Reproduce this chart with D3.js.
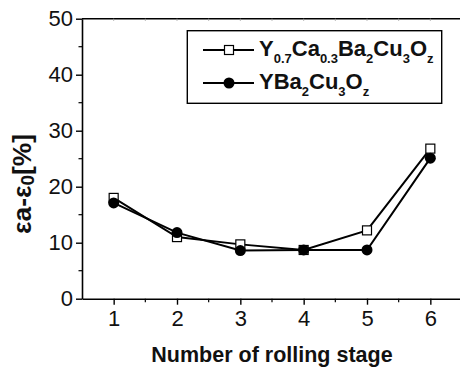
<!DOCTYPE html>
<html>
<head>
<script src="https://d3js.org/d3.v7.min.js"></script>
<style>
body { margin: 0; background: #fff; }
text { font-family: "Liberation Sans", Arial, sans-serif; }
</style>
</head>
<body>
<svg width="460" height="369"></svg>
<script>
// data
const stages = [1, 2, 3, 4, 5, 6];
const yCaBCO = [18.0, 11.0, 9.7, 8.7, 12.2, 26.8];
const yBCO = [17.1, 11.8, 8.6, 8.7, 8.7, 25.1];
const yTicks = [0, 10, 20, 30, 40, 50];

const svg = d3.select("svg");
const pLeft = 82, pRight = 462, pTop = 18.7, pBottom = 298.7;

const x = d3.scaleLinear().domain([0.5, 6.5]).range([pLeft, pRight]);
const y = d3.scaleLinear().domain([0, 50]).range([pBottom, pTop]);

// axes
const xAxis = svg.append("g").attr("transform", `translate(0,${pBottom})`)
    .call(d3.axisBottom(x).tickValues(stages).tickFormat(d3.format("d"))
        .tickSize(6).tickPadding(5.5).tickSizeOuter(0));
const yAxis = svg.append("g").attr("transform", `translate(${pLeft},0)`)
    .call(d3.axisLeft(y).tickValues(yTicks).tickFormat(d3.format("d"))
        .tickSize(6).tickPadding(3).tickSizeOuter(0));

[xAxis, yAxis].forEach(a => {
    a.select(".domain").attr("stroke", "#000").attr("stroke-width", 1.6);
    a.selectAll(".tick line").attr("stroke-width", 1.4);
    a.selectAll(".tick text").attr("font-size", 22).attr("fill", "#111")
        .style("font-family", "'Liberation Sans', Arial, sans-serif");
});

// minor ticks
const xMinor = d3.range(1.5, 6.5, 1);
svg.append("g").selectAll("line").data(xMinor).join("line")
    .attr("x1", d => x(d)).attr("x2", d => x(d))
    .attr("y1", pBottom).attr("y2", pBottom + 3.5)
    .attr("stroke", "#000").attr("stroke-width", 1.2);
const yMinor = d3.range(5, 50, 10);
svg.append("g").selectAll("line").data(yMinor).join("line")
    .attr("x1", pLeft - 3.5).attr("x2", pLeft)
    .attr("y1", d => y(d)).attr("y2", d => y(d))
    .attr("stroke", "#000").attr("stroke-width", 1.2);

// top frame
svg.append("line").attr("x1", pLeft).attr("x2", pRight)
    .attr("y1", pTop).attr("y2", pTop).attr("stroke", "#000").attr("stroke-width", 1.6);
svg.append("g").selectAll("line").data(stages.concat(xMinor)).join("line")
    .attr("x1", d => x(d)).attr("x2", d => x(d))
    .attr("y1", pTop).attr("y2", pTop + 2)
    .attr("stroke", "#999").attr("stroke-width", 1);

// series
const line = d3.line().x((d, i) => x(stages[i])).y(d => y(d));

svg.append("path").datum(yCaBCO).attr("d", line)
    .attr("fill", "none").attr("stroke", "#000").attr("stroke-width", 2);
svg.append("path").datum(yBCO).attr("d", line)
    .attr("fill", "none").attr("stroke", "#000").attr("stroke-width", 2);

svg.append("g").selectAll("rect").data(yCaBCO).join("rect")
    .attr("x", (d, i) => x(stages[i]) - 4.5).attr("y", d => y(d) - 4.5)
    .attr("width", 9).attr("height", 9)
    .attr("fill", "#fff").attr("stroke", "#000").attr("stroke-width", 1.2);
svg.append("g").selectAll("circle").data(yBCO).join("circle")
    .attr("cx", (d, i) => x(stages[i])).attr("cy", d => y(d)).attr("r", 5.5)
    .attr("fill", "#000");

// legend
const lg = svg.append("g");
lg.append("rect").attr("x", 187.3).attr("y", 30.7).attr("width", 254.4).attr("height", 72.6)
    .attr("fill", "#fff").attr("stroke", "#000").attr("stroke-width", 1.4);
const rows = [{y: 50, sym: "sq", parts: [["Y"], ["0.7", 1], ["Ca"], ["0.3", 1], ["Ba"], ["2", 1], ["Cu"], ["3", 1], ["O"], ["z", 1]]},
              {y: 83, sym: "ci", parts: [["YBa"], ["2", 1], ["Cu"], ["3", 1], ["O"], ["z", 1]]}];
rows.forEach(r => {
    lg.append("line").attr("x1", 203).attr("x2", 254).attr("y1", r.y).attr("y2", r.y)
        .attr("stroke", "#000").attr("stroke-width", 2);
    if (r.sym === "sq") {
        lg.append("rect").attr("x", 229 - 4.5).attr("y", r.y - 4.5).attr("width", 9).attr("height", 9)
            .attr("fill", "#fff").attr("stroke", "#000").attr("stroke-width", 1.2);
    } else {
        lg.append("circle").attr("cx", 229).attr("cy", r.y).attr("r", 5.5).attr("fill", "#000");
    }
    const t = lg.append("text").attr("x", 259).attr("y", r.y + 6.3)
        .attr("font-size", 22).attr("font-weight", "bold").attr("fill", "#111");
    r.parts.forEach((p, i) => {
        const prevSub = i > 0 && r.parts[i - 1][1];
        const s = t.append("tspan").text(p[0]);
        if (p[1]) s.attr("font-size", 13).attr("dy", 6.5);
        else s.attr("dy", prevSub ? -6.5 : 0);
    });
});

// axis titles
svg.append("text").attr("x", 272).attr("y", 362).attr("text-anchor", "middle")
    .attr("font-size", 21.5).attr("font-weight", "bold").attr("fill", "#111")
    .text("Number of rolling stage");

const yt = svg.append("text").attr("transform", "translate(31,184) rotate(-90)")
    .attr("text-anchor", "middle").attr("font-size", 25).attr("font-weight", "bold").attr("fill", "#111")
    .attr("textLength", 100).attr("lengthAdjust", "spacingAndGlyphs");
yt.append("tspan").text("\u03b5a-\u03b5");
yt.append("tspan").text("0").attr("font-size", 18).attr("dy", 3);
yt.append("tspan").text("[%]").attr("dy", -3);
</script>
</body>
</html>
